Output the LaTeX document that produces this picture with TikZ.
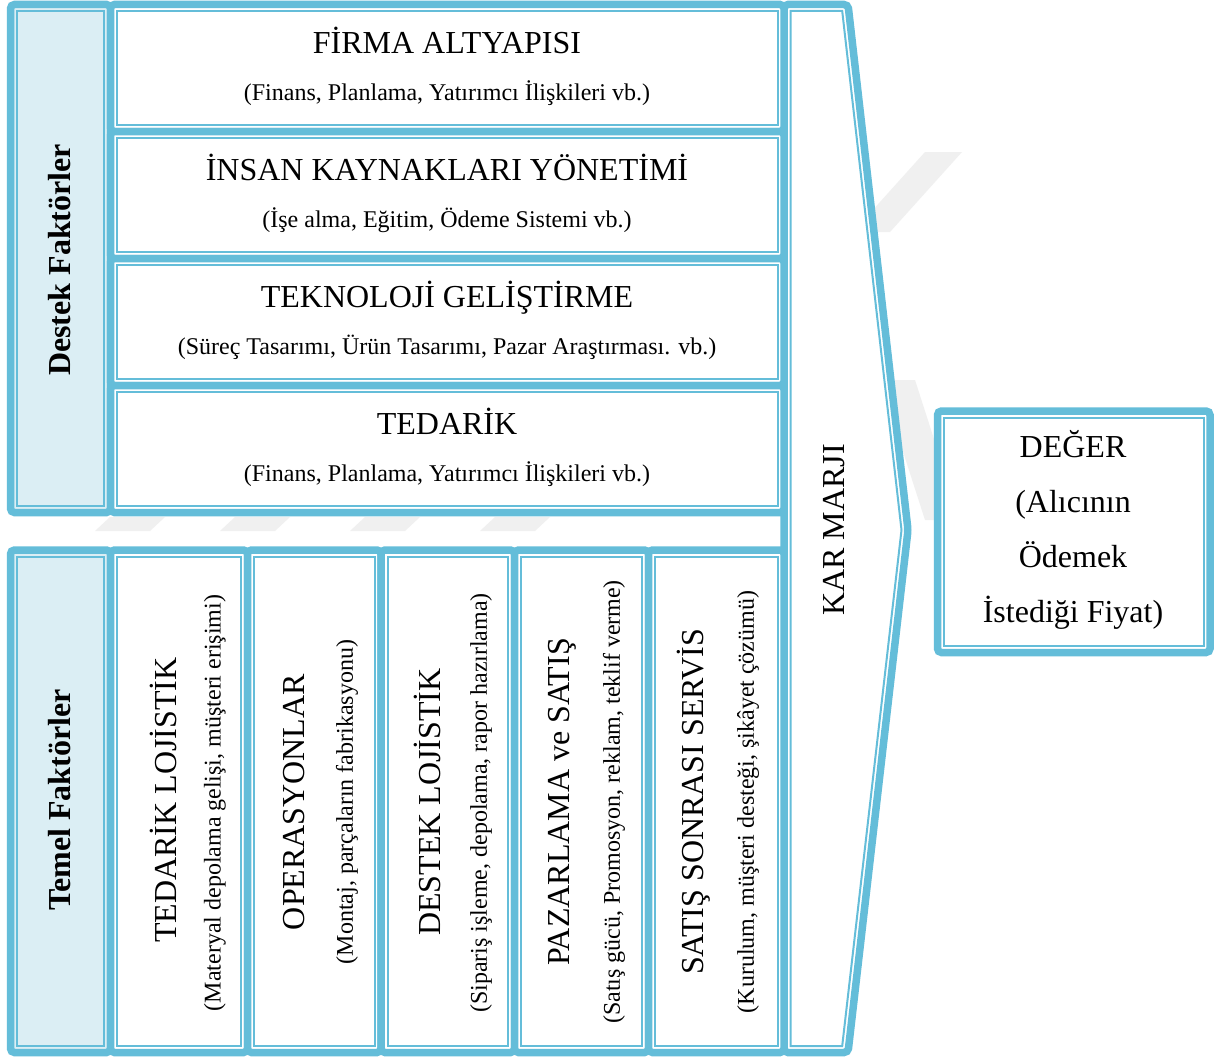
\documentclass[tikz,border=0pt]{standalone}
\usepackage{fontspec}
\setmainfont{Liberation Serif}
\usetikzlibrary{fit}
\definecolor{vcblue}{HTML}{64BDD9}
\definecolor{vcfill}{HTML}{DBEEF4}
\definecolor{wmgray}{HTML}{F0F0F0}

\tikzset{
  x=1pt, y=-1pt,
  frame/.style={draw=vcblue, line width=7.5pt, rounded corners=4pt, inner sep=0pt, outer sep=0pt},
  thinline/.style={draw=vcblue, line width=2pt},
  big/.style={font=\fontsize{32}{38}\selectfont},
  small/.style={font=\fontsize{24}{29}\selectfont},
  side/.style={font=\bfseries\fontsize{32}{38}\selectfont, rotate=90},
  wm/.style={fill=wmgray, draw=none},
}

% framed panel: outer thick border plus a thin inner border
\newcommand\panel[6]{%
  \node[frame, fill=#6, fit={(#2,#3) (#4,#5)}] (#1) {};
  \draw[thinline] ([shift={(6.5pt,-6.5pt)}]#1.north west) rectangle ([shift={(-6.5pt,6.5pt)}]#1.south east);
}

\begin{document}
\begin{tikzpicture}
\useasboundingbox[fill=white] (0,0) rectangle (1230,1057);

% faint background watermark
\path[wm] (110,517) -- (165,517) -- (150,531) -- (95,531) -- cycle;
\path[wm] (235,517) -- (290,517) -- (275,531) -- (220,531) -- cycle;
\path[wm] (365,517) -- (420,517) -- (405,531) -- (350,531) -- cycle;
\path[wm] (495,517) -- (550,517) -- (535,531) -- (480,531) -- cycle;
\path[wm] (925,152) -- (962,152) -- (890,232) -- (853,232) -- cycle;
\path[wm] (880,380) -- (915,380) -- (960,520) -- (925,520) -- cycle;

% profit margin arrow
\draw[frame, fill=white] (784,4.5) -- (848,4.5) -- (908,530) -- (848,1052.5) -- (784,1052.5) -- cycle;
\draw[thinline] (790.5,11) -- (842.2,11) -- (901.5,530) -- (842.2,1046) -- (790.5,1046) -- cycle;

% support activities
\panel{destek}{10.5}{4.5}{110.5}{512.5}{vcfill}
\panel{firma}{110.5}{4.5}{784}{131.5}{white}
\panel{insan}{110.5}{131.5}{784}{258.5}{white}
\panel{tekno}{110.5}{258.5}{784}{385.5}{white}
\panel{tedarik}{110.5}{385.5}{784}{512.5}{white}

% primary activities
\panel{temel}{10.5}{550}{110.5}{1052.5}{vcfill}
\panel{lojin}{110.5}{550}{247.5}{1052.5}{white}
\panel{oper}{247.5}{550}{381}{1052.5}{white}
\panel{lojout}{381}{550}{514.5}{1052.5}{white}
\panel{pazar}{514.5}{550}{648.5}{1052.5}{white}
\panel{servis}{648.5}{550}{784}{1052.5}{white}

% value box
\panel{deger}{937.5}{411}{1210}{652.5}{white}

% texts of the support activities
\node[side] (destekT) at (60,260) {Destek Faktörler};
\node[big, anchor=base] (firmaT) at (447,53) {FİRMA ALTYAPISI};
\node[small, anchor=base] (firmaS) at (447,100) {(Finans, Planlama, Yatırımcı İlişkileri vb.)};
\node[big, anchor=base] (insanT) at (447,180) {İNSAN KAYNAKLARI YÖNETİMİ};
\node[small, anchor=base] (insanS) at (447,227) {(İşe alma, Eğitim, Ödeme Sistemi vb.)};
\node[big, anchor=base] (teknoT) at (447,307) {TEKNOLOJİ GELİŞTİRME};
\node[small, anchor=base] (teknoS) at (447,354) {(Süreç Tasarımı, Ürün Tasarımı, Pazar Araştırması. vb.)};
\node[big, anchor=base] (tedarikT) at (447,434) {TEDARİK};
\node[small, anchor=base] (tedarikS) at (447,481) {(Finans, Planlama, Yatırımcı İlişkileri vb.)};

% texts of the primary activities
\node[side] (temelT) at (60,800) {Temel Faktörler};
\node[big, rotate=90] (lojinT) at (163,800) {TEDARİK LOJİSTİK};
\node[small, rotate=90] (lojinS) at (215,803) {(Materyal depolama gelişi, müşteri erişimi)};
\node[big, rotate=90] (operT) at (294,802) {OPERASYONLAR};
\node[small, rotate=90] (operS) at (347,802) {(Montaj, parçaların fabrikasyonu)};
\node[big, rotate=90] (lojoutT) at (427,802) {DESTEK LOJİSTİK};
\node[small, rotate=90] (lojoutS) at (481,803) {(Sipariş işleme, depolama, rapor hazırlama)};
\node[big, rotate=90] (pazarT) at (562,802) {PAZARLAMA ve SATIŞ};
\node[small, rotate=90] (pazarS) at (614,802) {(Satış gücü, Promosyon, reklam, teklif verme)};
\node[big, rotate=90] (servisT) at (694,802) {SATIŞ SONRASI SERVİS};
\node[small, rotate=90] (servisS) at (748,802) {(Kurulum, müşteri desteği, şikâyet çözümü)};

% margin and value
\node[big, rotate=90] (karT) at (834,530) {KAR MARJI};
\node[font=\fontsize{32}{55}\selectfont, align=center] (degerT) at (1073,530)
  {DEĞER\\(Alıcının\\Ödemek\\İstediği Fiyat)};
\end{tikzpicture}
\end{document}
